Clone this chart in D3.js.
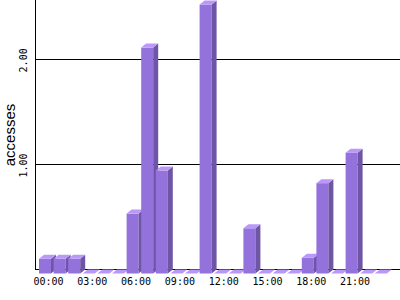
<!DOCTYPE html>
<html>
<head>
<meta charset="utf-8">
<script src="https://cdn.jsdelivr.net/npm/d3@7"></script>
<style>
  body { margin: 0; background: #fff; }
  .tick-x, .tick-y { font-family: "DejaVu Sans Mono", monospace; font-size: 10px; fill: #000; }
  .ylabel { font-family: "Liberation Sans", Arial, sans-serif; font-size: 15px; fill: #000; }
</style>
</head>
<body>
<div class="chart"></div>
<script>
// accesses per hour of day
var hours = d3.range(24);
var accesses = [0.14, 0.14, 0.14, 0, 0, 0, 0.57, 2.15, 0.98, 0, 0, 2.56,
                0, 0, 0.43, 0, 0, 0, 0.15, 0.86, 0, 1.15, 0, 0];
var xTicks = [0, 3, 6, 9, 12, 15, 18, 21];
var xTickLabels = ["00:00", "03:00", "06:00", "09:00", "12:00", "15:00", "18:00", "21:00"];
var yTicks = [1, 2];

var width = 400, height = 300;
var depthX = 5, depthY = 4;   // 3d offset of the bars

var svg = d3.select(".chart").append("svg")
    .attr("width", width)
    .attr("height", height);

var x = d3.scaleBand()
    .domain(hours)
    .range([37.7, 388.1])
    .paddingInner(0.178)
    .paddingOuter(0.089);
var bw = x.bandwidth();

var y = d3.scaleLinear()
    .domain([0, 2.565])
    .range([269.5, 0]);

// grid lines + axes (drawn behind the bars)
svg.selectAll(".grid")
    .data(yTicks)
    .enter().append("line")
    .attr("x1", 35).attr("x2", width)
    .attr("y1", function (d) { return Math.round(y(d)) + 0.5; })
    .attr("y2", function (d) { return Math.round(y(d)) + 0.5; })
    .attr("stroke", "#000")
    .attr("shape-rendering", "crispEdges");

svg.append("line")
    .attr("x1", 35.5).attr("x2", 35.5)
    .attr("y1", 0).attr("y2", y(0))
    .attr("stroke", "#000")
    .attr("shape-rendering", "crispEdges");
svg.append("line")
    .attr("x1", 35).attr("x2", width)
    .attr("y1", y(0)).attr("y2", y(0))
    .attr("stroke", "#000")
    .attr("shape-rendering", "crispEdges");

// bars: front, side, top face (zero values only get the flat top)
svg.selectAll(".bar")
    .data(accesses)
    .enter().append("g")
    .attr("class", "bar")
    .each(function (d, i) {
        var g = d3.select(this);
        var x0 = x(i), top = y(d), base = y(0);
        if (d > 0) {
            g.append("rect")
                .attr("x", x0).attr("y", top + depthY)
                .attr("width", bw).attr("height", base - top)
                .attr("fill", "#9372dc");
            g.append("polygon")
                .attr("points", [[x0 + bw, top + depthY], [x0 + bw + depthX, top],
                                 [x0 + bw + depthX, base], [x0 + bw, base + depthY]].join(" "))
                .attr("fill", "#6f55a6");
        }
        g.append("polygon")
            .attr("points", [[x0, top + depthY], [x0 + bw, top + depthY],
                             [x0 + bw + depthX, top], [x0 + depthX, top]].join(" "))
            .attr("fill", "#bb97fa");
    });

// x tick labels
svg.selectAll(".tick-x")
    .data(xTicks)
    .enter().append("text")
    .attr("class", "tick-x")
    .attr("x", function (d) { return x(d) + bw / 2 + 3.5; })
    .attr("y", 284.5)
    .attr("text-anchor", "middle")
    .text(function (d, i) { return xTickLabels[i]; });

// y tick labels (rotated)
svg.selectAll(".tick-y")
    .data(yTicks)
    .enter().append("text")
    .attr("class", "tick-y")
    .attr("transform", function (d) { return "translate(27," + (y(d) + 1) + ") rotate(-90)"; })
    .attr("text-anchor", "middle")
    .text(function (d) { return d3.format(".2f")(d); });

svg.append("text")
    .attr("class", "ylabel")
    .attr("transform", "translate(15,135) rotate(-90)")
    .attr("text-anchor", "middle")
    .text("accesses");
</script>
</body>
</html>
